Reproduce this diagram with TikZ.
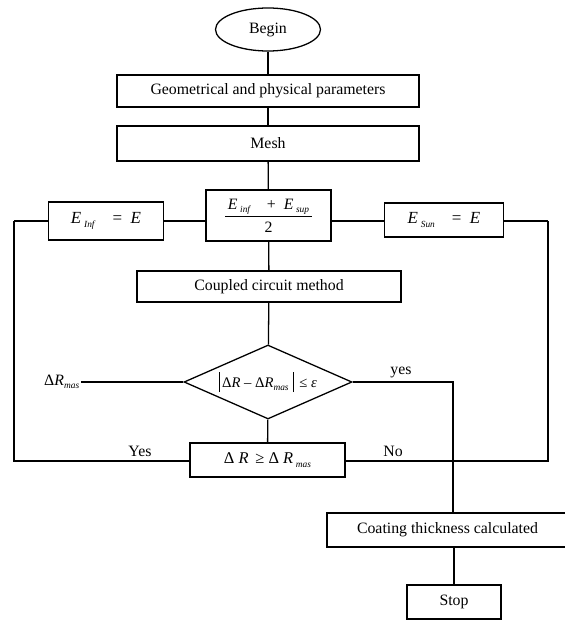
\documentclass[tikz,border=0pt]{standalone}
\usepackage{fontspec}
\setmainfont{Liberation Serif}
\usetikzlibrary{shapes.geometric,calc}

\newcommand{\lowsub}[1]{\raisebox{-0.45ex}{\fontsize{8}{9}\selectfont\textit{#1}}}
\newcommand{\absbar}{\vrule height 2.3ex depth 0.7ex width 0.5pt}

\begin{document}
\begin{tikzpicture}[x=0.03cm, y=-0.03cm, line width=1.1pt,
    every node/.style={font=\fontsize{13.5}{16}\selectfont},
    stepbox/.style={draw, rectangle, inner sep=0pt},
    startnode/.style={draw, ellipse, inner sep=0pt},
    testnode/.style={draw, diamond, inner sep=0pt, aspect=2.27},
    lbl/.style={inner sep=1pt}]
    \useasboundingbox (0,0) rectangle (565,621);

    \node[startnode, minimum width=3.15cm, minimum height=1.29cm] (begin) at (268, 29.5) {Begin};
    \node[stepbox, minimum width=9.06cm, minimum height=0.96cm] (geo) at (268, 91) {Geometrical and physical parameters};
    \node[stepbox, minimum width=9.06cm, minimum height=1.05cm] (mesh) at (268, 143.5) {Mesh};

    \node[stepbox, minimum width=3.75cm, minimum height=1.53cm] (frac) at (268.5, 215.5)
        {$\displaystyle\frac{\mbox{\,\textit{E}\,\lowsub{inf}\quad+\enspace\textit{E}\,\lowsub{sup}\,}}{\mbox{2}}$};
    \node[stepbox, minimum width=3.45cm, minimum height=1.14cm] (einf) at (106, 221)
        {\fontsize{14.5}{16}\selectfont\textit{E}\,\lowsub{Inf}\quad=\enspace\textit{E}};
    \node[stepbox, minimum width=3.57cm, minimum height=1.02cm] (esun) at (444, 220)
        {\fontsize{14.5}{16}\selectfont\textit{E}\,\lowsub{Sun}\quad=\enspace\textit{E}};

    \node[stepbox, minimum width=7.92cm, minimum height=0.93cm] (coupled) at (269, 286.5) {Coupled circuit method};
    \node[testnode, minimum width=5.04cm, minimum height=2.22cm] (crit) at (268, 382)
        {\fontsize{12.5}{14}\selectfont\absbar\,Δ\textit{R} – Δ\textit{R}\lowsub{mas}\;\absbar\, ≤ \textit{ε}};
    \node[stepbox, minimum width=4.65cm, minimum height=1.02cm] (test) at (267.5, 460)
        {\fontsize{14}{16}\selectfont Δ \textit{R}\, ≥ Δ \textit{R}\,\lowsub{mas}};
    \node[stepbox, minimum width=7.23cm, minimum height=1.02cm] (coat) at (447.5, 530) {Coating thickness calculated};
    \node[stepbox, minimum width=2.82cm, minimum height=1.02cm] (stop) at (454, 602) {Stop};

    \coordinate (lt) at (14, 221);
    \coordinate (lb) at (14, 461);
    \coordinate (rt) at (548, 221);
    \coordinate (rb) at (548, 461);
    \coordinate (masend) at (81, 382);
    \coordinate (yesend) at (453, 382);

    % main column
    \draw (begin) -- (geo);
    \draw (geo) -- (mesh);
    \draw (mesh) -- (frac);
    \draw (frac) -- (coupled);
    \draw (coupled) -- (crit);
    \draw (crit) -- (test);

    % bisection row and loops
    \draw (lt) -- (lt -| einf.west);
    \draw (lt -| einf.east) -- (lt -| frac.west);
    \draw (lt -| frac.east) -- (lt -| esun.west);
    \draw (lt -| esun.east) -- (rt);
    \draw (lt) -- (lb) -- (lb -| test.west);
    \draw (rt) -- (rb) -- (rb -| test.east);

    % exits of the test
    \draw (crit.west) -- (masend);
    \draw (crit.east) -- (yesend) -- (yesend |- coat.north);
    \draw (coat.south -| stop) -- (stop);

    \node[lbl, anchor=east] (mas) at (masend) {\fontsize{13.5}{16}\selectfont Δ\textit{R}\lowsub{mas}};
    \node[lbl] (yes) at (401, 372) {yes};
    \node[lbl] (yesleft) at (140, 451) {Yes};
    \node[lbl] (no) at (393, 451) {No};
\end{tikzpicture}
\end{document}
